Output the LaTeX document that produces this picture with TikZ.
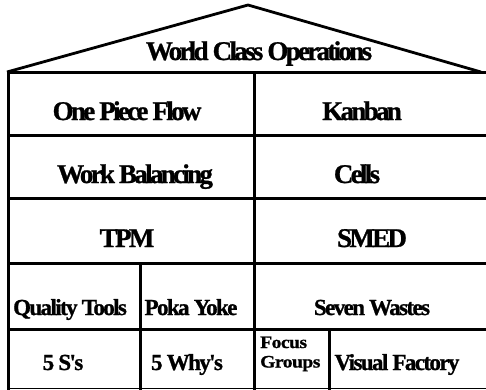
\documentclass[tikz,border=0pt]{standalone}
\usepackage{fontspec}
\setmainfont{Liberation Serif}
\newfontfamily\hfont{Liberation Serif}[LetterSpace=-10,FakeBold=1]
\newfontfamily\mfont{Liberation Serif}[LetterSpace=-7,FakeBold=1]
\newfontfamily\sfont{Liberation Serif}[FakeStretch=1.12,LetterSpace=-3,FakeBold=1]
\tikzset{
  bigtxt/.style={anchor=base,inner sep=0pt,font=\hfont\bfseries\fontsize{27}{27}\selectfont},
  midtxt/.style={anchor=base,inner sep=0pt,font=\mfont\bfseries\fontsize{23}{23}\selectfont},
  smalltxt/.style={anchor=base west,inner sep=0pt,font=\sfont\bfseries\fontsize{17.5}{17.5}\selectfont},
  thick line/.style={line width=3pt,line cap=rect},
  thin line/.style={line width=1.3pt}
}
\begin{document}
\begin{tikzpicture}[x=1pt,y=-1pt]
\useasboundingbox (0,0) rectangle (486,389);
% roof
\draw[line width=2.8pt,line join=miter] (7,72) -- (248,5) -- (481,72);
% horizontal lines
\draw[thick line] (8.5,72) -- (487,72);
\draw[thick line] (8.5,135) -- (487,135);
\draw[thick line] (8.5,198) -- (487,198);
\draw[thick line] (8.5,263) -- (487,263);
\draw[thick line] (8.5,329) -- (487,329);
\draw[thin line] (8.5,388.3) -- (487,388.3);
% vertical lines
\draw[thick line] (8.5,72) -- (8.5,388);
\draw[thick line] (254,72) -- (254,388);
\draw[thick line] (140,263) -- (140,388);
\draw[thick line] (329,329) -- (329,388);
% texts
\node[bigtxt] (wco) at (259,60) {World Class Operations};
\node[bigtxt] (opf) at (127,120) {One Piece Flow};
\node[bigtxt] (kan) at (362,120) {Kanban};
\node[bigtxt] (wb) at (135,183) {Work Balancing};
\node[bigtxt] (cel) at (357,183) {Cells};
\node[bigtxt] (tpm) at (127,247) {TPM};
\node[bigtxt] (smed) at (372,247) {SMED};
\node[midtxt] (qt) at (70,315) {Quality Tools};
\node[midtxt] (py) at (191,315) {Poka Yoke};
\node[midtxt] (sw) at (372,315) {Seven Wastes};
\node[midtxt] (fs) at (63,370) {5 S's};
\node[midtxt] (fw) at (187,370) {5 Why's};
\node[smalltxt] (foc) at (260,348) {Focus};
\node[smalltxt] (grp) at (260,367.5) {Groups};
\node[midtxt] (vf) at (397,370) {Visual Factory};
\end{tikzpicture}
\end{document}
